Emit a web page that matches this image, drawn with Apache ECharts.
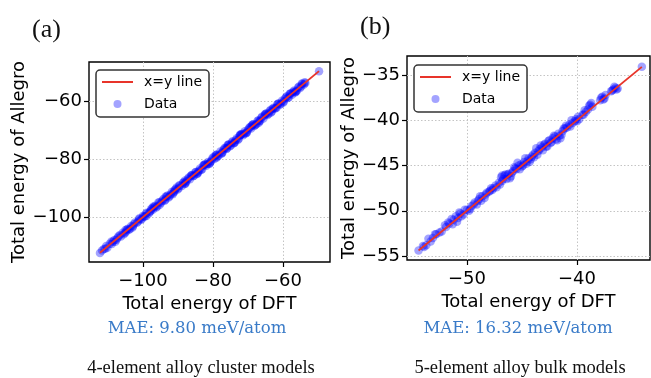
<!DOCTYPE html>
<html>
<head>
<meta charset="utf-8">
<script src="https://cdn.jsdelivr.net/npm/echarts@6/dist/echarts.min.js"></script>
<style>
html,body{margin:0;padding:0;background:#fff;}
#chart{width:651px;height:378px;}
</style>
</head>
<body>
<div id="chart"></div>
<script>
// ---------- Data ----------
// Panel (a): 4-element alloy cluster models
const leftDFT = [-112.3,-111.7,-110.2,-109.5,-108.9,-108.2,-107.6,-107.0,-106.3,-105.8,-105.1,-104.6,-104.0,-103.4,-102.9,-102.3,-101.7,-101.1,-100.6,-100.0,-99.5,-98.9,-98.3,-97.7,-97.1,-96.5,-95.9,-95.3,-94.8,-94.2,-93.6,-93.0,-92.4,-91.8,-91.3,-90.7,-90.1,-89.5,-88.9,-88.4,-87.8,-87.2,-86.6,-86.0,-85.4,-84.9,-84.3,-83.7,-83.1,-82.5,-81.9,-81.4,-80.8,-80.2,-79.6,-79.0,-78.4,-77.9,-77.3,-76.7,-76.1,-75.5,-74.9,-74.4,-73.8,-73.2,-72.6,-72.0,-71.4,-70.9,-70.3,-69.7,-69.1,-68.5,-67.9,-67.3,-66.8,-66.2,-65.6,-65.0,-64.4,-63.8,-63.2,-62.7,-62.1,-61.5,-60.9,-60.3,-59.8,-59.2,-58.6,-58.0,-57.4,-56.8,-56.3,-55.7,-55.1,-54.5,-54.0,-49.7,
  -95.6,-92.7,-90.4,-88.1,-86.3,-84.6,-82.8,-81.1,-79.3,-77.6,-75.8,-74.1,-72.3,-70.6,-68.8,-67.6,-64.7,-61.8,-58.9,-56.0,-106.6,-103.7,-100.3,-97.4,-53.6,
  -111.2,-110.8,-108.6,-107.3,-105.5,-104.3,-102.6,-101.4,-99.8,-99.2,-98.0,-96.8,-96.2,-94.5,-93.3,-92.1,-91.0,-89.8,-88.6,-87.5,-86.9,-85.7,-84.0,-83.4,-82.2,-81.6,-80.5,-79.9,-78.7,-77.0,-76.4,-75.2,-74.6,-73.5,-72.9,-71.7,-71.1,-70.0,-69.4,-68.2,-67.0,-66.5,-65.3,-64.1,-63.5,-62.4,-61.2,-60.6,-59.5,-58.3,-57.1,-56.6,-55.4,-54.8,-53.8,-66.0,-79.0,-88.0,-93.8,-72.4,
  -110.5,-109.0,-107.9,-105.0,-103.0,-101.0,-99.0,-97.0,-95.2,-93.5,-91.5,-89.7,-87.9,-86.1,-84.4,-82.6,-80.9,-79.1,-77.4,-75.6,-73.9,-72.1,-70.4,-68.6,-66.9,-65.1,-63.4,-61.6,-59.9,-58.1,-56.4,-54.6,-85.0,-76.0,-69.0,-91.0,-97.8,-62.9,-57.7,-104.8];
const leftAllegro = [-112.4,-111.5,-110.6,-109.2,-109.3,-107.9,-107.8,-106.6,-106.7,-105.4,-105.5,-104.3,-104.4,-103.1,-103.2,-101.9,-102.0,-100.8,-100.9,-99.6,-99.8,-98.5,-98.7,-97.3,-97.4,-96.1,-96.3,-94.9,-95.1,-93.8,-94.0,-92.6,-92.8,-91.4,-91.6,-90.3,-90.5,-89.1,-89.3,-88.0,-88.1,-86.8,-87.0,-85.6,-85.8,-84.5,-84.6,-83.3,-83.5,-82.1,-82.3,-81.0,-81.1,-79.8,-80.0,-78.5,-78.8,-77.4,-77.7,-76.2,-76.5,-75.1,-75.3,-73.9,-74.2,-72.8,-73.0,-71.6,-71.8,-70.4,-70.7,-69.3,-69.5,-68.1,-68.3,-66.9,-67.1,-65.8,-66.0,-64.6,-64.8,-63.4,-63.6,-62.3,-62.5,-61.1,-61.3,-59.9,-60.2,-58.8,-59.0,-57.6,-57.8,-56.4,-56.6,-55.3,-55.5,-54.1,-54.3,-49.7,
  -95.0,-93.3,-89.8,-88.6,-85.8,-85.2,-82.3,-81.6,-78.8,-78.1,-75.2,-74.6,-71.8,-71.1,-68.3,-68.0,-64.2,-62.2,-58.4,-56.5,-106.2,-104.1,-100.7,-96.9,-53.8,
  -111.0,-110.9,-108.5,-107.2,-105.9,-104.0,-102.5,-101.5,-99.9,-98.9,-98.2,-96.6,-96.7,-94.4,-93.0,-92.2,-90.8,-90.1,-88.3,-87.6,-86.4,-85.9,-84.0,-83.8,-81.8,-81.7,-80.6,-79.4,-79.1,-76.8,-76.2,-75.6,-74.3,-73.4,-73.4,-71.3,-71.3,-69.9,-69.0,-68.6,-66.6,-66.8,-65.0,-64.4,-63.0,-62.6,-60.8,-61.0,-59.3,-58.7,-56.8,-57.0,-55.0,-55.0,-53.5,-65.4,-79.6,-87.4,-94.4,-72.0,
  -110.0,-108.4,-108.5,-104.5,-103.6,-100.4,-99.6,-96.4,-95.8,-92.9,-92.1,-89.1,-88.5,-85.5,-85.0,-82.0,-81.5,-78.5,-78.0,-75.0,-74.5,-71.5,-71.0,-68.0,-67.5,-64.5,-64.0,-61.0,-60.5,-57.5,-57.0,-54.0,-84.6,-76.3,-68.7,-91.2,-97.9,-62.7,-57.3,-105.0];
const leftLine = [-112.3, -49.7];
const leftTicks = [-100, -80, -60];

// Panel (b): 5-element alloy bulk models
const rightDFT = [-54.4,-53.7,-53.5,-53.1,-52.8,-52.5,-51.9,-51.6,-51.3,-51.2,-51.0,-50.8,-50.6,-50.3,-50.0,-49.6,-49.3,-49.1,-48.9,-48.6,-48.4,-48.2,-47.9,-47.6,-47.3,-47.1,-46.8,-46.6,-46.4,-46.2,-46.0,-45.8,-45.5,-45.3,-45.0,-44.8,-44.6,-44.4,-44.2,-44.0,-43.8,-43.6,-43.4,-43.2,-43.0,-42.8,-42.6,-42.4,-42.2,-41.9,-41.7,-41.4,-41.2,-40.9,-40.7,-40.4,-40.1,-39.8,-39.5,-39.2,-38.9,-38.7,-37.9,-37.7,-37.5,-36.9,-36.7,-36.5,-36.3,-34.1,-45.4,-41.5,-46.8,
  -54.0,-53.3,-52.3,-51.7,-51.4,-50.9,-50.5,-50.2,-49.8,-49.4,-49.0,-48.7,-48.3,-48.0,-47.7,-47.4,-47.0,-46.7,-46.3,-46.1,-45.9,-45.6,-45.1,-44.9,-44.5,-44.1,-43.9,-43.5,-43.1,-42.9,-42.5,-42.3,-42.0,-41.6,-41.3,-41.0,-40.6,-40.2,-39.9,-39.4,-39.0,-38.8,-37.8,-37.6,-36.8,-36.4,
  -53.9,-52.9,-52.0,-50.7,-49.7,-48.8,-47.8,-46.9,-46.5,-45.7,-45.2,-44.7,-44.3,-43.7,-43.3,-42.7,-42.1,-41.8,-41.1,-40.5,-40.0,-39.3,-38.6,-37.4,-36.6];
const rightAllegro = [-54.4,-53.8,-53.1,-53.0,-52.6,-52.4,-51.8,-51.4,-51.5,-51.0,-50.6,-50.8,-50.3,-50.4,-49.9,-49.5,-49.1,-49.3,-48.7,-48.4,-48.6,-48.0,-47.8,-47.5,-47.4,-46.9,-46.7,-46.1,-46.5,-45.9,-46.2,-45.6,-45.4,-45.0,-45.1,-44.6,-44.8,-44.2,-44.3,-43.8,-43.6,-43.8,-43.2,-43.0,-42.7,-42.9,-42.3,-42.5,-42.0,-42.1,-41.5,-41.6,-40.9,-40.8,-40.5,-40.3,-39.9,-39.9,-39.4,-39.1,-38.4,-38.1,-37.8,-37.4,-37.6,-36.8,-36.6,-36.4,-36.5,-34.1,-44.7,-42.0,-46.1,
  -53.9,-53.4,-52.3,-51.3,-50.9,-51.2,-50.6,-49.9,-50.0,-49.3,-48.9,-48.9,-48.2,-47.9,-47.7,-47.2,-47.1,-46.5,-46.0,-46.4,-45.8,-45.3,-44.9,-45.0,-44.5,-44.0,-44.1,-43.4,-43.3,-42.6,-42.2,-42.4,-41.8,-41.7,-41.2,-40.6,-40.7,-40.1,-39.6,-39.4,-38.8,-38.3,-37.5,-37.7,-36.7,-36.6,
  -54.0,-52.6,-51.6,-50.2,-49.8,-48.4,-47.5,-46.3,-46.0,-45.2,-45.4,-44.2,-44.6,-43.1,-42.8,-42.9,-41.7,-42.2,-40.9,-40.0,-40.1,-38.9,-38.5,-37.2,-36.3];
const rightLine = [-54.4, -34.1];
const rightXTicks = [-50, -40];
const rightYTicks = [-55, -50, -45, -40, -35];

const labels = {
  panelA: '(a)', panelB: '(b)',
  xTitle: 'Total energy of DFT', yTitle: 'Total energy of Allegro',
  maeA: 'MAE: 9.80 meV/atom', maeB: 'MAE: 16.32 meV/atom',
  capA: '4-element alloy cluster models', capB: '5-element alloy bulk models',
  lineName: 'x=y line', dataName: 'Data'
};

// ---------- Chart ----------
const zip = (a, b) => a.map((v, i) => [v, b[i]]);
const SANS = 'DejaVu Sans';
const SERIF = 'Liberation Serif';
const minus = v => String(v).replace('-', '\u2212');

function makeAxis(gridIndex, min, max, ticks, isX, nameGap) {
  return {
    type: 'value', gridIndex, min, max,
    name: isX ? labels.xTitle : labels.yTitle,
    nameLocation: 'middle', nameGap,
    nameTextStyle: { fontFamily: SANS, fontSize: 18, color: '#000' },
    axisLine: { show: false },
    axisTick: { show: true, inside: false, length: 5, customValues: ticks, lineStyle: { color: '#000', width: 1.2 } },
    axisLabel: { customValues: ticks, formatter: minus, fontFamily: SANS, fontSize: 18, color: '#000', margin: isX ? 10 : 7 },
    splitLine: { show: true, lineStyle: { color: '#c4c4c4', width: 1, type: [1.5, 2] } }
  };
}

const scatterStyle = { color: 'rgba(0,0,255,0.45)' };
const lineStyleRed = { color: '#e8342a', width: 1.9 };

function legendAt(left, top) {
  return {
    orient: 'vertical', left, top, itemWidth: 31, itemHeight: 8, itemGap: 8,
    padding: [5, 7, 6, 5], borderColor: '#333', borderWidth: 1.5, borderRadius: 4,
    backgroundColor: '#fff', selectedMode: false,
    textStyle: { fontFamily: SANS, fontSize: 14, color: '#000', padding: [0, 0, 0, 6] },
    data: [
      { name: labels.lineName, itemStyle: { color: 'rgba(0,0,0,0)', opacity: 0 } },
      { name: labels.dataName }
    ]
  };
}

const option = {
  animation: false,
  backgroundColor: '#fff',
  grid: [
    { left: 89, top: 62, width: 241, height: 200, show: true, borderColor: '#000', borderWidth: 1.4, backgroundColor: 'transparent' },
    { left: 407, top: 56, width: 243, height: 204, show: true, borderColor: '#000', borderWidth: 1.4, backgroundColor: 'transparent' }
  ],
  xAxis: [
    makeAxis(0, -115.43, -46.57, leftTicks, true, 26),
    makeAxis(1, -55.45, -33.36, rightXTicks, true, 26)
  ],
  yAxis: [
    makeAxis(0, -115.5, -46.55, leftTicks, false, 58),
    makeAxis(1, -55.44, -32.9, rightYTicks, false, 48)
  ],
  legend: [legendAt(96, 70), legendAt(414, 65)],
  series: [
    { type: 'scatter', name: labels.dataName, xAxisIndex: 0, yAxisIndex: 0, symbolSize: 8.5, itemStyle: scatterStyle, data: zip(leftDFT, leftAllegro), z: 2 },
    { type: 'line', name: labels.lineName, xAxisIndex: 0, yAxisIndex: 0, symbol: 'none', lineStyle: lineStyleRed, itemStyle: { color: lineStyleRed.color }, data: zip(leftLine, leftLine), z: 3 },
    { type: 'scatter', name: labels.dataName, xAxisIndex: 1, yAxisIndex: 1, symbolSize: 8.5, itemStyle: scatterStyle, data: zip(rightDFT, rightAllegro), z: 2 },
    { type: 'line', name: labels.lineName, xAxisIndex: 1, yAxisIndex: 1, symbol: 'none', lineStyle: lineStyleRed, itemStyle: { color: lineStyleRed.color }, data: zip(rightLine, rightLine), z: 3 }
  ],
  graphic: [
    { type: 'text', left: 32, top: 17, style: { text: labels.panelA, font: '26px "' + SERIF + '"', fill: '#111' } },
    { type: 'text', left: 360, top: 14, style: { text: labels.panelB, font: '26px "' + SERIF + '"', fill: '#111' } },
    { type: 'text', x: 197, y: 329, style: { text: labels.maeA, font: '16.5px "DejaVu Serif"', fill: '#3a7bc8', align: 'center', verticalAlign: 'middle' } },
    { type: 'text', x: 518, y: 329, style: { text: labels.maeB, font: '16.5px "DejaVu Serif"', fill: '#3a7bc8', align: 'center', verticalAlign: 'middle' } },
    { type: 'text', x: 201, y: 368, style: { text: labels.capA, font: '18.5px "' + SERIF + '"', fill: '#111', align: 'center', verticalAlign: 'middle' } },
    { type: 'text', x: 520, y: 368, style: { text: labels.capB, font: '18.5px "' + SERIF + '"', fill: '#111', align: 'center', verticalAlign: 'middle' } }
  ]
};

const chart = echarts.init(document.getElementById('chart'), null, { renderer: 'canvas' });
chart.setOption(option);
</script>
</body>
</html>
